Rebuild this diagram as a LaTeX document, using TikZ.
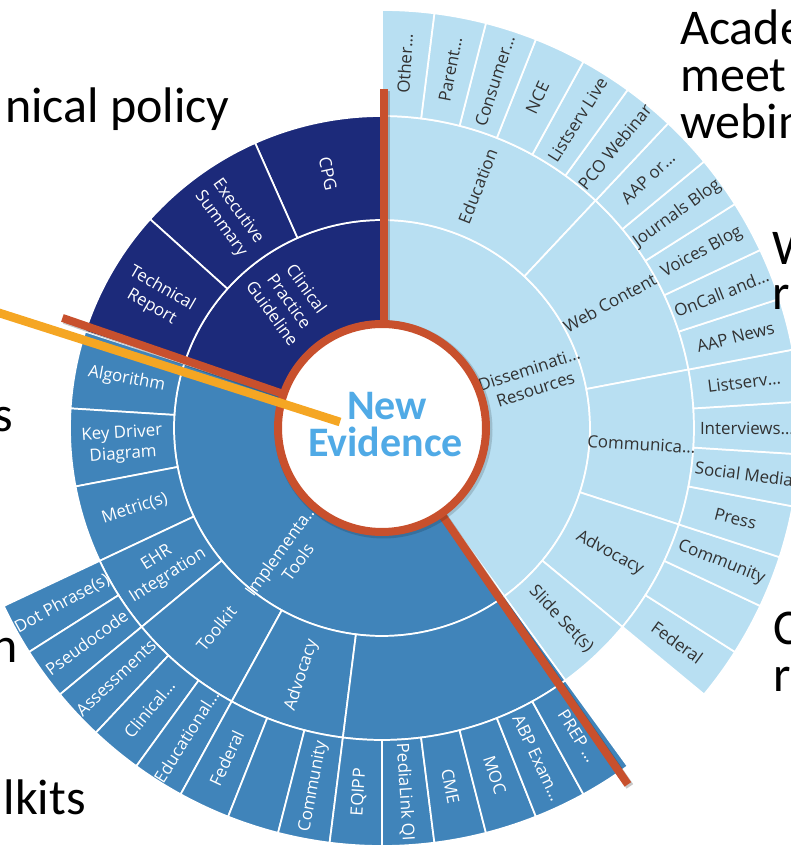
\documentclass[tikz,border=0pt]{standalone}
\usepackage{fontspec}
\setmainfont{Open Sans}
\newfontfamily\calib{Carlito}
\definecolor{navy}{RGB}{28,42,122}
\definecolor{midblue}{RGB}{64,132,186}
\definecolor{lightblue}{RGB}{184,223,242}
\definecolor{ringred}{RGB}{200,80,45}
\definecolor{yel}{RGB}{245,166,35}
\definecolor{newev}{RGB}{80,170,230}
\definecolor{darktext}{RGB}{50,50,50}
\tikzset{
  seg/.style={draw=white, line width=1.3pt, line join=round},
  lbl/.style={font=\fontsize{12.7}{15.8}\selectfont, align=center, inner sep=0pt},
  dk/.style={lbl, text=darktext},
  wh/.style={lbl, text=white},
  big/.style={font=\calib\fontsize{37.5}{45}\selectfont, inner sep=0pt, text=black},
  redline/.style={draw=ringred, line width=6pt},
  shadowline/.style={draw=black, opacity=0.22, line width=6pt},
  evid/.style={font=\calib\bfseries\fontsize{31.5}{36}\selectfont, text=newev, inner sep=0pt},
}
\newcommand\sect[5]{\fill[#5, seg] (#3:#1) arc[start angle=#3, end angle=#4, radius=#1] -- (#4:#2) arc[start angle=#4, end angle=#3, radius=#2] -- cycle;}
\newcommand\lab[6]{\node[#1, rotate=#5] (#2) at (#3:#4) {#6};}
\begin{document}
\begin{tikzpicture}[x=0.75pt,y=0.75pt]
\useasboundingbox (0,0) rectangle (790,847);
\fill[white] (0,0) rectangle (790,847);
\begin{scope}[shift={(382,419)}]
% level 1
\sect{104}{208}{-54}{90}{lightblue}
\sect{104}{208}{90}{162}{navy}
\sect{104}{208}{162}{306}{midblue}
% level 2 dissemination
\sect{208}{312}{46.8}{90}{lightblue}
\sect{208}{312}{10.8}{46.8}{lightblue}
\sect{208}{312}{-18}{10.8}{lightblue}
\sect{208}{312}{-39.6}{-18}{lightblue}
\sect{208}{312}{-54}{-39.6}{lightblue}
% level 2 CPG
\sect{208}{312}{90}{114}{navy}
\sect{208}{312}{114}{138}{navy}
\sect{208}{312}{138}{162}{navy}
% level 2 implementation
\sect{208}{312}{162}{176.4}{midblue}
\sect{208}{312}{176.4}{190.8}{midblue}
\sect{208}{312}{190.8}{205.2}{midblue}
\sect{208}{312}{205.2}{219.6}{midblue}
\sect{208}{312}{219.6}{241.2}{midblue}
\sect{208}{312}{241.2}{262.8}{midblue}
\sect{208}{312}{262.8}{306}{midblue}
% level 3
\foreach \i in {0,...,17}{\pgfmathsetmacro\a{-39.6+7.2*\i}\pgfmathsetmacro\b{\a+7.2}\sect{312}{418}{\a}{\b}{lightblue}}
\foreach \i in {0,...,13}{\pgfmathsetmacro\a{205.2+7.2*\i}\pgfmathsetmacro\b{\a+7.2}\sect{312}{418}{\a}{\b}{midblue}}
% level 1 labels
\lab{dk}{l1a}{18}{158}{18}{Disseminati…\\Resources}
\lab{wh}{l1b}{234}{158}{54}{Implementa…\\Tools}
\lab{wh}{l1c}{126}{157}{-54}{Clinical\\Practice\\Guideline}
% level 2 labels
\lab{dk}{l2a}{68.4}{260}{68.4}{Education}
\lab{dk}{l2b}{28.8}{260}{28.8}{Web Content}
\lab{dk}{l2c}{-3.6}{260}{-3.6}{Communica…}
\lab{dk}{l2d}{-28.8}{260}{-28.8}{Advocacy}
\lab{dk}{l2e}{-46.8}{262}{-46.8}{Slide Set(s)}
\lab{wh}{l2f}{102}{260}{-78}{CPG}
\lab{wh}{l2g}{126}{260}{-54}{Executive\\Summary}
\lab{wh}{l2h}{150}{260}{-30}{Technical\\Report}
\lab{wh}{l2i}{169.2}{260}{-10.8}{Algorithm}
\lab{wh}{l2j}{183.6}{260}{3.6}{Key Driver\\Diagram}
\lab{wh}{l2k}{198}{260}{18}{Metric(s)}
\lab{wh}{l2l}{212.4}{260}{32.4}{EHR\\Integration}
\lab{wh}{l2m}{230.4}{260}{50.4}{Toolkit}
\lab{wh}{l2n}{252}{260}{72}{Advocacy}
% level 3 labels dissemination
\lab{dk}{l3a}{86.4}{365}{86.4}{Other…}
\lab{dk}{l3b}{79.2}{365}{79.2}{Parent…}
\lab{dk}{l3c}{72}{365}{72}{Consumer…}
\lab{dk}{l3d}{64.8}{365}{64.8}{NCE}
\lab{dk}{l3e}{57.6}{365}{57.6}{Listserv Live}
\lab{dk}{l3f}{50.4}{365}{50.4}{PCO Webinar}
\lab{dk}{l3g}{43.2}{365}{43.2}{AAP or…}
\lab{dk}{l3h}{36}{365}{36}{Journals Blog}
\lab{dk}{l3i}{28.8}{365}{28.8}{Voices Blog}
\lab{dk}{l3j}{21.6}{365}{21.6}{OnCall and…}
\lab{dk}{l3k}{14.4}{365}{14.4}{AAP News}
\lab{dk}{l3l}{7.2}{365}{7.2}{Listserv…}
\lab{dk}{l3m}{0}{365}{0}{Interviews…}
\lab{dk}{l3n}{-7.2}{365}{-7.2}{Social Media}
\lab{dk}{l3o}{-14.4}{365}{-14.4}{Press}
\lab{dk}{l3p}{-21.6}{365}{-21.6}{Community}
\lab{dk}{l3q}{-36}{365}{-36}{Federal}
% level 3 labels implementation
\lab{wh}{l3r}{208.8}{365}{28.8}{Dot Phrase(s)}
\lab{wh}{l3s}{216}{365}{36}{Pseudocode}
\lab{wh}{l3t}{223.2}{365}{43.2}{Assessments}
\lab{wh}{l3u}{230.4}{365}{50.4}{Clinical…}
\lab{wh}{l3v}{237.6}{365}{57.6}{Educational…}
\lab{wh}{l3w}{244.8}{365}{64.8}{Federal}
\lab{wh}{l3x}{259.2}{365}{79.2}{Community}
\lab{wh}{l3y}{266.4}{365}{86.4}{EQIPP}
\lab{wh}{l3z}{273.6}{365}{-86.4}{PediaLink QI}
\lab{wh}{l3aa}{280.8}{365}{-79.2}{CME}
\lab{wh}{l3ab}{288}{365}{-72}{MOC}
\lab{wh}{l3ac}{295.2}{365}{-64.8}{ABP Exam…}
\lab{wh}{l3ad}{302.4}{365}{-57.6}{PREP …}
% orange radial bars with shadows
\draw[shadowline] (4,98) -- (4,337);
\draw[shadowline] ([shift={(2,-2)}]161:100) -- ([shift={(2,-2)}]161:338);
\draw[shadowline] ([shift={(2,-2)}]-55.4:100) -- ([shift={(2,-2)}]-55.4:433);
\draw[redline] (2,100) -- (2,339);
\draw[redline] (161:100) -- (161:338);
\draw[redline] (-55.4:100) -- (-55.4:433);
% central ring
\fill[black, opacity=0.15] (1.5,-1.5) circle[radius=109];
\draw[ringred, line width=6pt, fill=white] (0,0) circle[radius=104];
\end{scope}
\node[evid, anchor=base] (new) at (387,427) {New};
\node[evid, anchor=base] (evi) at (385.5,390) {Evidence};
% background slide text (partly cut off at the edges)
\node[big, anchor=base east] (t1) at (230,724) {nical policy};
\node[big, anchor=base west] (t2) at (680,802) {Acade};
\node[big, anchor=base west] (t3) at (680,755) {meet};
\node[big, anchor=base west] (t4) at (680,708) {webin};
\node[big, anchor=base west] (t5) at (772,582) {W};
\node[big, anchor=base west] (t6) at (772,537) {r};
\node[big, anchor=base west] (t7) at (773,202) {C};
\node[big, anchor=base west] (t8) at (773,155) {r};
\node[big, anchor=base east] (t9) at (13,415) {s};
\node[big, anchor=base east] (t10) at (18,184) {n};
\node[big, anchor=base east] (t11) at (86,32) {lkits};
\draw[yel, line width=6.5pt] (-10,537) -- (340,425);
\end{tikzpicture}
\end{document}
